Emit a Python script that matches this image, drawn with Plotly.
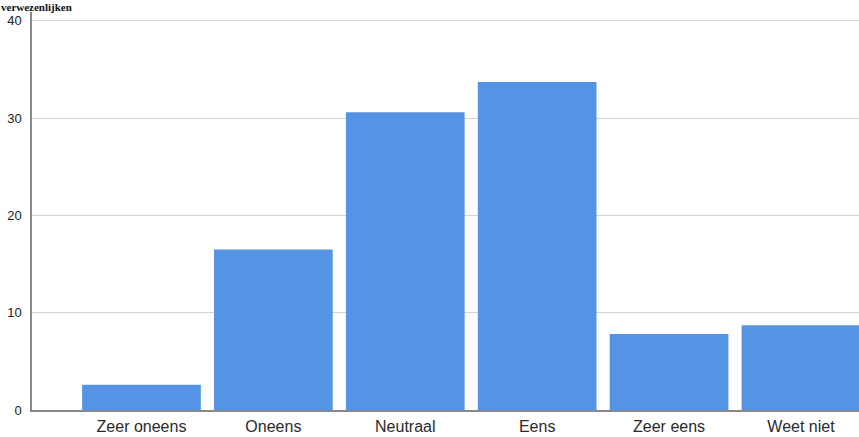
import plotly.graph_objects as go

categories = ["Zeer oneens", "Oneens", "Neutraal", "Eens", "Zeer eens", "Weet niet"]
values = [2.6, 16.5, 30.6, 33.7, 7.8, 8.7]
y_ticks = [0, 10, 20, 30, 40]
title_text = "verwezenlijken"

fig = go.Figure()
fig.add_trace(go.Bar(
    x=list(range(len(categories))),
    y=values,
    marker=dict(color="#5594E4", line=dict(width=0)),
    width=0.9,
))

fig.update_layout(
    width=859, height=437,
    margin=dict(l=32, r=0, t=12, b=27, autoexpand=False),
    paper_bgcolor="white", plot_bgcolor="white",
    showlegend=False,
    font=dict(family="Liberation Sans, Arial", color="#222222"),
    xaxis=dict(
        range=[-0.83, 5.44],
        tickmode="array",
        tickvals=list(range(len(categories))),
        ticktext=categories,
        showgrid=False, zeroline=False,
        showline=True, linecolor="#888888", linewidth=1.5,
        ticks="", tickfont=dict(size=16, color="#2a2a2a"),
        ticklabelstandoff=1,
        fixedrange=True,
    ),
    yaxis=dict(
        range=[0, 40.9],
        tickmode="array", tickvals=y_ticks,
        showgrid=True, gridcolor="#d4d4d4", gridwidth=1,
        zeroline=False,
        showline=True, linecolor="#888888", linewidth=1.5,
        ticks="", tickfont=dict(size=13, color="#222222"),
        ticklabelstandoff=6,
        fixedrange=True,
    ),
    annotations=[dict(
        text=title_text, xref="paper", yref="paper",
        x=-32/827, y=1 + 12/398, xanchor="left", yanchor="top",
        showarrow=False, borderpad=0,
        font=dict(family="Liberation Serif", size=11, color="#111111", weight="bold"),
    )],
)

fig.write_html("out.html", config={"displayModeBar": False},
               post_script="document.body.style.margin='0';document.body.style.overflow='hidden';")
